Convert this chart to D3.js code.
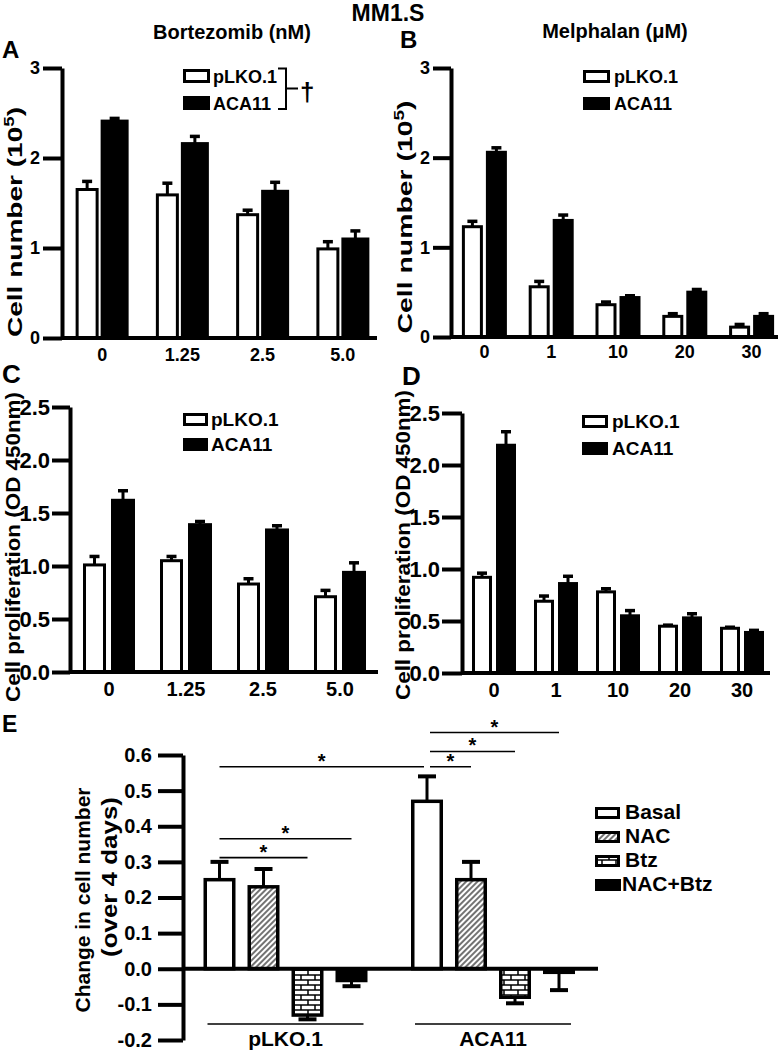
<!DOCTYPE html>
<html><head><meta charset="utf-8">
<script src="https://cdn.jsdelivr.net/npm/d3@7"></script>
<style>
body{margin:0;background:#fff}
svg{display:block}
text{font-family:"Liberation Sans",Arial,Helvetica,sans-serif;font-weight:bold;fill:#000}
</style>
</head><body>
<svg id="c" width="781" height="1050"></svg>
<script>
// ---------------- data ----------------
const seriesAB = ["pLKO.1", "ACA11"];
const catsBtz = ["0", "1.25", "2.5", "5.0"];
const catsMel = ["0", "1", "10", "20", "30"];
// A: cell number, bortezomib
const cellBtzPLKO = [1.65, 1.59, 1.37, 0.99];
const cellBtzPLKOErr = [0.09, 0.13, 0.05, 0.08];
const cellBtzACA = [2.41, 2.16, 1.63, 1.10];
const cellBtzACAErr = [0.03, 0.08, 0.10, 0.09];
// B: cell number, melphalan
const cellMelPLKO = [1.23, 0.56, 0.36, 0.23, 0.11];
const cellMelPLKOErr = [0.06, 0.06, 0.03, 0.03, 0.03];
const cellMelACA = [2.06, 1.30, 0.44, 0.50, 0.23];
const cellMelACAErr = [0.05, 0.06, 0.02, 0.03, 0.03];
// C: OD450, bortezomib
const odBtzPLKO = [1.01, 1.05, 0.83, 0.71];
const odBtzPLKOErr = [0.08, 0.04, 0.05, 0.06];
const odBtzACA = [1.62, 1.39, 1.34, 0.94];
const odBtzACAErr = [0.09, 0.03, 0.04, 0.09];
// D: OD450, melphalan
const odMelPLKO = [0.92, 0.69, 0.78, 0.45, 0.43];
const odMelPLKOErr = [0.04, 0.05, 0.03, 0.01, 0.01];
const odMelACA = [2.19, 0.86, 0.55, 0.53, 0.39];
const odMelACAErr = [0.13, 0.07, 0.05, 0.04, 0.02];
// E: change in cell number
const groupsE = ["pLKO.1", "ACA11"];
const treatE = ["Basal", "NAC", "Btz", "NAC+Btz"];
const changePLKO = [0.25, 0.23, -0.13, -0.033];
const changePLKOErr = [0.05, 0.05, 0.012, 0.016];
const changeACA = [0.47, 0.25, -0.08, -0.01];
const changeACAErr = [0.07, 0.05, 0.017, 0.05];
// significance comparisons in E: [group, treatment] pairs and bracket level
const sigE = [
  {a: [0, 0], b: [1, 0], level: 0.567},
  {a: [0, 0], b: [0, 3], level: 0.365},
  {a: [0, 0], b: [0, 2], level: 0.312},
  {a: [1, 0], b: [1, 1], level: 0.567},
  {a: [1, 0], b: [1, 2], level: 0.610},
  {a: [1, 0], b: [1, 3], level: 0.663}
];
const ticksCell = [0, 1, 2, 3];
const ticksOD = [0, 0.5, 1, 1.5, 2, 2.5];
const ticksE = [-0.2, -0.1, 0, 0.1, 0.2, 0.3, 0.4, 0.5, 0.6];

// ---------------- drawing ----------------
const svg = d3.select("#c");
const defs = svg.append("defs");
const hatch = defs.append("pattern").attr("id", "hatch").attr("patternUnits", "userSpaceOnUse")
  .attr("width", 4).attr("height", 4).attr("patternTransform", "rotate(45)");
hatch.append("rect").attr("width", 4).attr("height", 4).attr("fill", "#fff");
hatch.append("line").attr("x1", 1).attr("y1", 0).attr("x2", 1).attr("y2", 4)
  .attr("stroke", "#000").attr("stroke-width", 1.1);
const brick = defs.append("pattern").attr("id", "brick").attr("patternUnits", "userSpaceOnUse")
  .attr("width", 14).attr("height", 10);
brick.append("rect").attr("width", 14).attr("height", 10).attr("fill", "#000");
[[0.75, 0.75], [-6.25, 5.75], [7.75, 5.75]].forEach(([bx, by]) =>
  brick.append("rect").attr("x", bx).attr("y", by).attr("width", 12.5).attr("height", 3.5).attr("fill", "#fff"));

function txt(x, y, s, size, anchor) {
  return svg.append("text").attr("x", x).attr("y", y).attr("font-size", size)
    .attr("text-anchor", anchor || "start").text(s);
}
function vtxt(x, y, s, size, len) {
  const t = svg.append("text").attr("transform", `translate(${x},${y}) rotate(-90)`)
    .attr("text-anchor", "middle").attr("font-size", size).text(s);
  if (len) t.attr("textLength", len).attr("lengthAdjust", "spacingAndGlyphs");
  return t;
}

function grouped(cfg) {
  const g = svg.append("g");
  const y = d3.scaleLinear().domain(cfg.yDomain).range(cfg.yRange);
  const x = d3.scaleBand().domain(cfg.cats).range(cfg.xRange);
  const total = cfg.w1 + cfg.gap + cfg.w2;
  const rows = [];
  cfg.cats.forEach((c, i) => {
    const cx = x(c) + x.bandwidth() / 2;
    const left = cx - total / 2;
    rows.push({s: 0, x0: left, w: cfg.w1, v: cfg.s1[i], e: cfg.e1[i]});
    rows.push({s: 1, x0: left + cfg.w1 + cfg.gap, w: cfg.w2, v: cfg.s2[i], e: cfg.e2[i]});
  });
  // error bars
  g.selectAll("line.stem").data(rows).join("line")
    .attr("x1", d => d.x0 + d.w / 2).attr("x2", d => d.x0 + d.w / 2)
    .attr("y1", d => y(d.v)).attr("y2", d => y(d.v + d.e))
    .attr("stroke", "#000").attr("stroke-width", 3);
  g.selectAll("line.cap").data(rows).join("line")
    .attr("x1", d => d.x0 + d.w / 2 - cfg.cap / 2).attr("x2", d => d.x0 + d.w / 2 + cfg.cap / 2)
    .attr("y1", d => y(d.v + d.e)).attr("y2", d => y(d.v + d.e))
    .attr("stroke", "#000").attr("stroke-width", 3.5);
  // bars
  g.selectAll("rect.bar").data(rows).join("rect")
    .attr("x", d => d.s === 0 ? d.x0 + 1.5 : d.x0)
    .attr("width", d => d.s === 0 ? d.w - 3 : d.w)
    .attr("y", d => d.s === 0 ? y(d.v) : y(d.v) - 1.5)
    .attr("height", d => y(0) - y(d.v) + (d.s === 0 ? 0 : 1.5))
    .attr("fill", d => d.s === 0 ? "#fff" : "#000")
    .attr("stroke", "#000").attr("stroke-width", d => d.s === 0 ? 3 : 0);
  // x axis line
  g.append("line").attr("x1", cfg.axisX).attr("x2", cfg.axisEnd)
    .attr("y1", y(0)).attr("y2", y(0)).attr("stroke", "#000").attr("stroke-width", 4);
  // x labels
  const xa = g.append("g").attr("transform", `translate(0,${y(0)})`)
    .call(d3.axisBottom(x).tickSize(0).tickPadding(cfg.xPad));
  xa.select(".domain").remove();
  xa.selectAll("text").attr("font-size", cfg.xFont);
  // y axis
  const ya = g.append("g").attr("transform", `translate(${cfg.axisX},0)`)
    .call(d3.axisLeft(y).tickValues(cfg.ticks).tickFormat(cfg.fmt)
      .tickSize(cfg.tickLen).tickSizeOuter(0).tickPadding(cfg.tickPad));
  ya.select(".domain").attr("stroke-width", 4);
  ya.selectAll(".tick line").attr("stroke-width", 4);
  ya.selectAll("text").attr("font-size", cfg.tickFont);
  xa.attr("font-family", null); ya.attr("font-family", null);
  // legend
  const L = cfg.legend;
  seriesAB.forEach((s, i) => {
    const yy = L.y + i * L.dy;
    if (i === 0) {
      g.append("rect").attr("x", L.x + 1.5).attr("y", yy + 1.5).attr("width", L.w - 3).attr("height", L.h - 3)
        .attr("fill", "#fff").attr("stroke", "#000").attr("stroke-width", 3);
    } else {
      g.append("rect").attr("x", L.x).attr("y", yy).attr("width", L.w).attr("height", L.h).attr("fill", "#000");
    }
    g.append("text").attr("x", L.tx).attr("y", yy + L.h).attr("font-size", L.font).text(s);
  });
  return g;
}

// Title and headers
txt(388, 21, "MM1.S", 23, "middle");
txt(232, 39, "Bortezomib (nM)", 20, "middle");
txt(615, 38, "Melphalan (\u03bcM)", 20, "middle");
txt(2, 58, "A", 24);
txt(400, 48, "B", 24);
txt(2, 383, "C", 26);
txt(402, 385, "D", 26);
txt(2, 732, "E", 23);

// Panel A
grouped({cats: catsBtz, s1: cellBtzPLKO, e1: cellBtzPLKOErr, s2: cellBtzACA, e2: cellBtzACAErr,
  yDomain: [0, 3], yRange: [338, 68], ticks: ticksCell, fmt: d => String(d),
  xRange: [62, 383], axisX: 62, axisEnd: 377, tickLen: 19, tickPad: 3, tickFont: 18,
  xFont: 18, xPad: 10, w1: 23, w2: 28, gap: 2, cap: 10,
  legend: {x: 183, y: 69, dy: 27, w: 27, h: 14, tx: 213, font: 18}});
// bracket and dagger
svg.append("path").attr("d", "M278,68.5H286V109H278M286,88.5H298")
  .attr("fill", "none").attr("stroke", "#000").attr("stroke-width", 2);
svg.append("text").attr("x", 300).attr("y", 101).attr("font-size", 26)
  .attr("font-weight", "normal").text("\u2020");
// A y label with superscript
(function(){
  const t = svg.append("text").attr("transform", "translate(22,222) rotate(-90)")
    .attr("text-anchor", "middle").attr("font-size", 21)
    .attr("textLength", 230).attr("lengthAdjust", "spacingAndGlyphs");
  t.append("tspan").text("Cell number (10");
  t.append("tspan").attr("dy", -8).attr("font-size", 14).text("5");
  t.append("tspan").attr("dy", 8).text(")");
})();

// Panel B
grouped({cats: catsMel, s1: cellMelPLKO, e1: cellMelPLKOErr, s2: cellMelACA, e2: cellMelACAErr,
  yDomain: [0, 3], yRange: [337, 68], ticks: ticksCell, fmt: d => String(d),
  xRange: [451, 785], axisX: 451, axisEnd: 778, tickLen: 18, tickPad: 3, tickFont: 18,
  xFont: 18, xPad: 8, w1: 21, w2: 21, gap: 3, cap: 10,
  legend: {x: 583, y: 70, dy: 27, w: 27, h: 13, tx: 614, font: 18}});
(function(){
  const t = svg.append("text").attr("transform", "translate(412,217) rotate(-90)")
    .attr("text-anchor", "middle").attr("font-size", 21)
    .attr("textLength", 233).attr("lengthAdjust", "spacingAndGlyphs");
  t.append("tspan").text("Cell number (10");
  t.append("tspan").attr("dy", -8).attr("font-size", 14).text("5");
  t.append("tspan").attr("dy", 8).text(")");
})();

// Panel C
grouped({cats: catsBtz, s1: odBtzPLKO, e1: odBtzPLKOErr, s2: odBtzACA, e2: odBtzACAErr,
  yDomain: [0, 2.5], yRange: [672, 407], ticks: ticksOD, fmt: d => d.toFixed(1),
  xRange: [70.5, 378.5], axisX: 70, axisEnd: 378, tickLen: 18, tickPad: 2, tickFont: 22,
  xFont: 20, xPad: 10, w1: 23, w2: 24, gap: 5, cap: 10,
  legend: {x: 183, y: 413, dy: 25, w: 25, h: 13, tx: 211, font: 19}});
vtxt(20, 547, "Cell proliferation (OD 450nm)", 21, 310);

// Panel D
grouped({cats: catsMel, s1: odMelPLKO, e1: odMelPLKOErr, s2: odMelACA, e2: odMelACAErr,
  yDomain: [0, 2.5], yRange: [673, 413], ticks: ticksOD, fmt: d => d.toFixed(1),
  xRange: [463, 773], axisX: 462, axisEnd: 770, tickLen: 20, tickPad: 2, tickFont: 22,
  xFont: 20, xPad: 10, w1: 20, w2: 20, gap: 4, cap: 10,
  legend: {x: 582, y: 415, dy: 27, w: 26, h: 13, tx: 612, font: 19}});
vtxt(410, 545, "Cell proliferation (OD 450nm)", 21, 310);

// Panel E
(function(){
  const g = svg.append("g");
  const y = d3.scaleLinear().domain([-0.2, 0.6]).range([1040, 755]);
  const gx = d3.scaleBand().domain(groupsE).range([181.75, 596.75]);
  const tx = d3.scaleBand().domain(treatE).range([-88, 88]);
  const fills = ["#fff", "url(#hatch)", "url(#brick)", "#000"];
  const vals = [changePLKO, changeACA], errs = [changePLKOErr, changeACAErr];
  const cx = (gi, ti) => gx(groupsE[gi]) + gx.bandwidth() / 2 + tx(treatE[ti]) + tx.bandwidth() / 2;
  const rows = [];
  groupsE.forEach((gn, gi) => treatE.forEach((tn, ti) =>
    rows.push({gi, ti, v: vals[gi][ti], e: errs[gi][ti], cx: cx(gi, ti)})));
  const bw = 32;
  // error bars
  const end = d => d.v >= 0 ? d.v + d.e : d.v - d.e;
  g.selectAll("line.stem").data(rows).join("line")
    .attr("x1", d => d.cx).attr("x2", d => d.cx).attr("y1", d => y(d.v)).attr("y2", d => y(end(d)))
    .attr("stroke", "#000").attr("stroke-width", 3);
  g.selectAll("line.cap").data(rows).join("line")
    .attr("x1", d => d.cx - 9).attr("x2", d => d.cx + 9).attr("y1", d => y(end(d))).attr("y2", d => y(end(d)))
    .attr("stroke", "#000").attr("stroke-width", 4);
  // bars
  g.selectAll("rect.bar").data(rows).join("rect")
    .attr("x", d => d.cx - bw / 2 + 1.75).attr("width", bw - 3.5)
    .attr("y", d => y(Math.max(d.v, 0))).attr("height", d => Math.abs(y(d.v) - y(0)))
    .attr("fill", d => fills[d.ti]).attr("stroke", "#000").attr("stroke-width", 3.5);
  // zero line
  g.append("line").attr("x1", 183).attr("x2", 598).attr("y1", y(0)).attr("y2", y(0))
    .attr("stroke", "#000").attr("stroke-width", 4);
  // y axis
  const ya = g.append("g").attr("transform", "translate(183,0)")
    .call(d3.axisLeft(y).tickValues(ticksE).tickFormat(d => d.toFixed(1))
      .tickSize(25).tickSizeOuter(0).tickPadding(6));
  ya.attr("font-family", null);
  ya.select(".domain").attr("stroke-width", 4);
  ya.selectAll(".tick line").attr("stroke-width", 4);
  ya.selectAll("text").attr("font-size", 20);
  // significance
  sigE.forEach(s => {
    let x1 = cx(s.a[0], s.a[1]), x2 = cx(s.b[0], s.b[1]);
    if (s.a[0] === 1) x1 += 3;
    if (s.b[0] === 1 && s.b[1] === 0) x2 -= 3;
    g.append("line").attr("x1", x1).attr("x2", x2).attr("y1", y(s.level)).attr("y2", y(s.level))
      .attr("stroke", "#000").attr("stroke-width", 1.6);
    g.append("text").attr("x", (x1 + x2) / 2).attr("y", y(s.level) + 1).attr("text-anchor", "middle")
      .attr("font-size", 20).text("*");
  });
  // group underlines and labels
  groupsE.forEach(gn => {
    const c = gx(gn) + gx.bandwidth() / 2;
    g.append("line").attr("x1", c - 78).attr("x2", c + 78).attr("y1", 1024).attr("y2", 1024)
      .attr("stroke", "#000").attr("stroke-width", 1.6);
    g.append("text").attr("x", c).attr("y", 1046).attr("text-anchor", "middle").attr("font-size", 21).text(gn);
  });
  // legend
  treatE.forEach((tn, i) => {
    const yy = 807 + i * 24;
    if (i === 3) {
      g.append("rect").attr("x", 595).attr("y", yy).attr("width", 26).attr("height", 12).attr("fill", "#000");
    } else {
      g.append("rect").attr("x", 596.5).attr("y", yy + 1.5).attr("width", 22).attr("height", 9)
        .attr("fill", fills[i]).attr("stroke", "#000").attr("stroke-width", 3);
    }
    g.append("text").attr("x", i === 3 ? 622 : 625).attr("y", yy + 12).attr("font-size", 21).text(tn);
  });
  // y label (two lines)
  vtxt(90, 900, "Change in cell number", 21, 225);
  vtxt(117, 877, "(over 4 days)", 22, 160);
})();
</script>
</body></html>
